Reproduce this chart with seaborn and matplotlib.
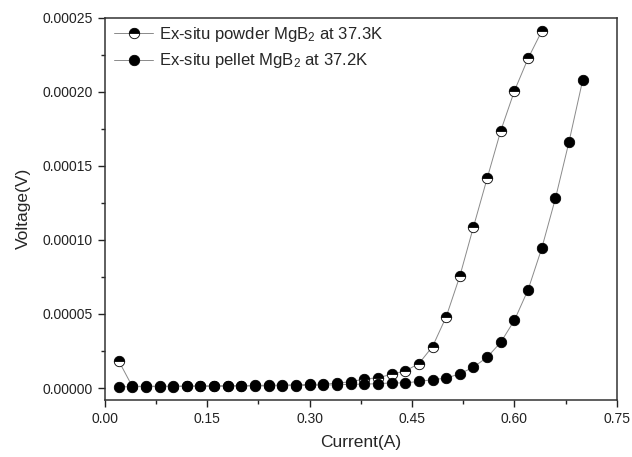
import numpy as np
import pandas as pd
import matplotlib
matplotlib.use("Agg")
import matplotlib.pyplot as plt
import seaborn as sns
from matplotlib.ticker import MultipleLocator, FormatStrFormatter

# ---- data ----
current_powder = [0.02, 0.04, 0.06, 0.08, 0.10, 0.12, 0.14, 0.16, 0.18, 0.20,
                  0.22, 0.24, 0.26, 0.28, 0.30, 0.32, 0.34, 0.36, 0.38, 0.40,
                  0.42, 0.44, 0.46, 0.48, 0.50, 0.52, 0.54, 0.56, 0.58, 0.60,
                  0.62, 0.64]
voltage_powder = [18.5e-6, 1.2e-6, 1.2e-6, 1.3e-6, 1.3e-6, 1.4e-6, 1.5e-6, 1.5e-6,
                  1.6e-6, 1.7e-6, 1.8e-6, 1.9e-6, 2.0e-6, 2.2e-6, 2.4e-6, 2.7e-6,
                  3.2e-6, 4.3e-6, 6.0e-6, 7.0e-6, 9.2e-6, 11.5e-6, 16.5e-6, 28.0e-6,
                  48.1e-6, 75.6e-6, 108.9e-6, 141.6e-6, 173.8e-6, 200.7e-6,
                  222.6e-6, 241.0e-6]

current_pellet = [0.02, 0.04, 0.06, 0.08, 0.10, 0.12, 0.14, 0.16, 0.18, 0.20,
                  0.22, 0.24, 0.26, 0.28, 0.30, 0.32, 0.34, 0.36, 0.38, 0.40,
                  0.42, 0.44, 0.46, 0.48, 0.50, 0.52, 0.54, 0.56, 0.58, 0.60,
                  0.62, 0.64, 0.66, 0.68, 0.70]
voltage_pellet = [0.8e-6, 0.9e-6, 1.0e-6, 1.0e-6, 1.0e-6, 1.1e-6, 1.2e-6, 1.1e-6,
                  1.3e-6, 1.3e-6, 1.4e-6, 1.5e-6, 1.6e-6, 1.7e-6, 1.8e-6, 2.0e-6,
                  2.2e-6, 2.5e-6, 2.7e-6, 2.9e-6, 3.5e-6, 3.4e-6, 4.5e-6, 5.6e-6,
                  6.7e-6, 9.6e-6, 14.1e-6, 20.8e-6, 30.9e-6, 45.8e-6, 66.4e-6,
                  94.4e-6, 128.0e-6, 166.4e-6, 208.0e-6]

label_powder = "Ex-situ powder MgB$_2$ at 37.3K"
label_pellet = "Ex-situ pellet MgB$_2$ at 37.2K"
x_ticks = [0.00, 0.15, 0.30, 0.45, 0.60, 0.75]
y_ticks = [0.00000, 0.00005, 0.00010, 0.00015, 0.00020, 0.00025]

df_powder = pd.DataFrame({"Current": current_powder, "Voltage": voltage_powder})
df_pellet = pd.DataFrame({"Current": current_pellet, "Voltage": voltage_pellet})

sns.set_style("ticks")
plt.rcParams["font.family"] = ["Liberation Sans", "DejaVu Sans"]
plt.rcParams["mathtext.default"] = "regular"

fig = plt.figure(figsize=(6.32, 4.57), dpi=100)
ax = fig.add_axes([0.166, 0.125, 0.810, 0.836])

sns.lineplot(data=df_powder, x="Current", y="Voltage", ax=ax, sort=False,
             color="#8a8a8a", linewidth=0.7, marker="o", markersize=7.5,
             fillstyle="top", markerfacecolor="black",
             markerfacecoloralt="white", markeredgecolor="black",
             markeredgewidth=0.6, label=label_powder)
sns.lineplot(data=df_pellet, x="Current", y="Voltage", ax=ax, sort=False,
             color="#8a8a8a", linewidth=0.7, marker="o", markersize=7.5,
             markerfacecolor="black", markeredgecolor="black",
             markeredgewidth=0.6, label=label_pellet)

ax.set_xlim(0, 0.75)
ax.set_ylim(-0.000008, 0.00025)
ax.set_xticks(x_ticks)
ax.set_yticks(y_ticks)
ax.xaxis.set_major_formatter(FormatStrFormatter("%.2f"))
ax.yaxis.set_major_formatter(FormatStrFormatter("%.5f"))
ax.xaxis.set_minor_locator(MultipleLocator(0.075))
ax.yaxis.set_minor_locator(MultipleLocator(0.000025))
ax.tick_params(which="major", direction="out", length=5, width=1,
               labelsize=10, colors="#222222", pad=4)
ax.tick_params(which="minor", direction="out", length=3, width=1,
               colors="#222222")
for s in ax.spines.values():
    s.set_visible(True)
    s.set_linewidth(1.1)
    s.set_color("#333333")

ax.set_xlabel("Current(A)", fontsize=12.5, labelpad=6)
ax.set_ylabel("Voltage(V)", fontsize=12.5, labelpad=8)

leg = ax.legend(loc="upper left", bbox_to_anchor=(0.012, 0.99),
                frameon=False, fontsize=12, handlelength=2.3,
                handletextpad=0.4, labelspacing=0.45, borderpad=0.2,
                borderaxespad=0)

fig.savefig("out.png", dpi=100)
